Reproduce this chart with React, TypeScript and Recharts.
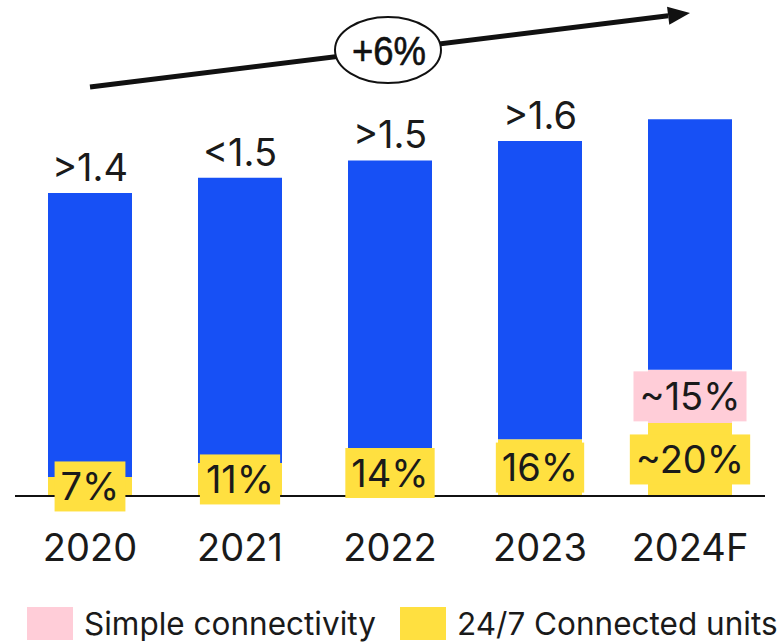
import React, { useLayoutEffect, useRef, useState } from "react";
import { BarChart, Bar, XAxis, YAxis, LabelList, Legend, Customized } from "recharts";

const years = ["2020", "2021", "2022", "2023", "2024F"];
const totalUnits = [1.4, 1.47, 1.55, 1.64, 1.74];
const totalLabels = [">1.4", "<1.5", ">1.5", ">1.6", ""];
const connectedShare = [6.3, 10.4, 13.7, 16, 19.4];
const connectedLabels = ["7%", "11%", "14%", "16%", "~20%"];
const simpleShare = [0, 0, 0, 0, 14.1];
const simpleLabels = ["", "", "", "", "~15%"];

const BLUE = "#1750F5";
const YELLOW = "#FFE040";
const PINK = "#FFCDD8";
const INK = "#1a1a1a";
const FONT = "Inter, 'Noto Sans', sans-serif";

const data = years.map((year, i) => {
  const connected = (totalUnits[i] * connectedShare[i]) / 100;
  const simple = (totalUnits[i] * simpleShare[i]) / 100;
  return {
    year,
    connected,
    simple,
    other: totalUnits[i] - connected - simple,
    totalLabel: totalLabels[i],
    connectedLabel: connectedLabels[i],
    simpleLabel: simpleLabels[i],
  };
});

const LabelBox = ({ cx, cy, text, fill }: { cx: number; cy: number; text: string; fill: string }) => {
  const ref = useRef<SVGTextElement>(null);
  const [w, setW] = useState(0);
  useLayoutEffect(() => {
    if (ref.current) setW(ref.current.getBBox().width);
  }, [text]);
  const bw = w + 12;
  const bh = 50;
  return (
    <g>
      <rect x={cx - bw / 2} y={cy - bh / 2} width={bw} height={bh} fill={fill} />
      <text
        ref={ref}
        x={cx}
        y={cy}
        dy="0.36em"
        textAnchor="middle"
        fontFamily={FONT}
        fontSize={38}
        fill={INK}
      >
        {text}
      </text>
    </g>
  );
};

const boxLabel = (fill: string) => (props: any) => {
  const vb = props.viewBox || props;
  const { x, y, width, height } = vb;
  if (!props.value) return null;
  return <LabelBox cx={x + width / 2} cy={y + height / 2} text={String(props.value)} fill={fill} />;
};

const GrowthArrow = () => {
  const x1 = 90, y1 = 87, x2 = 690, y2 = 13;
  const ang = Math.atan2(y2 - y1, x2 - x1);
  const len = 22, half = 9;
  const bx = x2 - len * Math.cos(ang);
  const by = y2 - len * Math.sin(ang);
  const px = -Math.sin(ang) * half;
  const py = Math.cos(ang) * half;
  return (
    <g>
      <line x1={x1} y1={y1} x2={bx} y2={by} stroke="#111" strokeWidth={5} />
      <polygon points={`${x2},${y2} ${bx + px},${by + py} ${bx - px},${by - py}`} fill="#111" />
      <ellipse cx={388} cy={50} rx={53} ry={33} fill="#fff" stroke="#111" strokeWidth={2} />
      <text
        x={389}
        y={50}
        dy="0.36em"
        textAnchor="middle"
        fontFamily="'Liberation Sans', Arial, sans-serif"
        fontSize={41}
        textLength={74}
        lengthAdjust="spacingAndGlyphs"
        stroke="#111"
        strokeWidth={0.6}
        fill="#111"
      >
        +6%
      </text>
    </g>
  );
};

const LegendContent = (props: any) => {
  const items = (props.payload || []).filter((p: any) => p.dataKey !== "other").reverse();
  return (
    <div style={{ display: "flex", alignItems: "center", whiteSpace: "nowrap", fontFamily: FONT, fontSize: 31.5, color: INK }}>
      {items.map((item: any, i: number) => (
        <div
          key={i}
          style={{ display: "flex", alignItems: "center", marginLeft: i === 0 ? 27 : 0, width: i === 0 ? 373 : undefined }}
        >
          <span style={{ display: "inline-block", width: 46, height: 33, background: item.color }} />
          <span style={{ marginLeft: 11 }}>{item.value}</span>
        </div>
      ))}
    </div>
  );
};

export default function App() {
  return (
    <div style={{ position: "absolute", left: 0, top: 0 }}>
      <BarChart
        width={782}
        height={642}
        data={data}
        margin={{ top: 63, right: 17, bottom: 86, left: 15 }}
        barSize={84}
      >
        <XAxis
          dataKey="year"
          axisLine={{ stroke: "#111", strokeWidth: 2 }}
          tickLine={false}
          tickSize={0}
          tickMargin={38}
          height={60}
          tick={{ fill: INK, fontSize: 38, fontFamily: FONT }}
          interval={0}
        />
        <YAxis hide domain={[0, 2]} />
        <Bar dataKey="connected" name="24/7 Connected units" stackId="a" fill={YELLOW} isAnimationActive={false}>
          <LabelList dataKey="connectedLabel" content={boxLabel(YELLOW)} />
        </Bar>
        <Bar dataKey="simple" name="Simple connectivity" stackId="a" fill={PINK} isAnimationActive={false}>
          <LabelList dataKey="simpleLabel" content={boxLabel(PINK)} />
        </Bar>
        <Bar dataKey="other" stackId="a" fill={BLUE} legendType="none" isAnimationActive={false}>
          <LabelList
            dataKey="totalLabel"
            position="top"
            offset={12}
            fill={INK}
            fontSize={38}
            fontFamily={FONT}
          />
        </Bar>
        <Customized component={<GrowthArrow />} />
        <Legend
          layout="horizontal"
          align="center"
          verticalAlign="middle"
          content={<LegendContent />}
          wrapperStyle={{ left: 0, top: 604, width: 782 }}
        />
      </BarChart>
    </div>
  );
}
